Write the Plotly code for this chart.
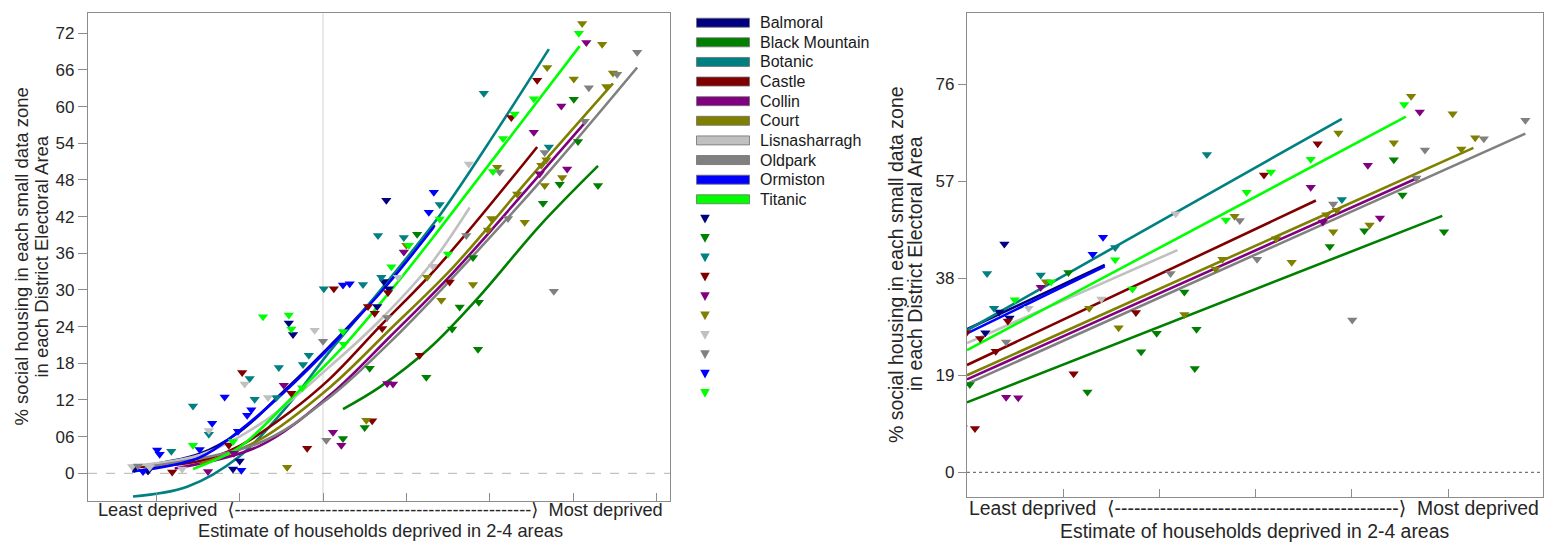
import plotly.graph_objects as go

W, H = 1544, 542

districts = ["Balmoral", "Black Mountain", "Botanic", "Castle", "Collin", "Court",
             "Lisnasharragh", "Oldpark", "Ormiston", "Titanic"]
colors = ["#000080", "#008000", "#008080", "#800000", "#800080", "#808000",
          "#c0c0c0", "#808080", "#0000ff", "#00ff00"]

# ---------------- observed data zones (x = deprivation estimate, y = % social housing)
balmoral_x = [-22.6, -21.0, -10.8, -10.0, -4.1, -3.6, 6.5, 7.3, 7.9, 7.6]
balmoral_y = [0.8, 0.4, 0.7, 2.0, 24.6, 22.7, 27.3, 31.4, 30.2, 44.7]
blackmountain_x = [2.4, 5.0, 5.6, 11.3, 12.4, 15.5, 16.4, 18.0, 18.6, 18.7, 26.4, 28.4, 30.1, 30.6, 33.0]
blackmountain_y = [5.7, 7.5, 17.2, 39.1, 15.7, 23.6, 27.2, 35.3, 20.3, 28.0, 44.2, 47.3, 61.2, 54.3, 47.1]
botanic_x = [-18.2, -15.6, -13.7, -8.8, -8.2, -5.6, -5.3, -2.4, -1.7, 0.1, 4.8, 6.6, 7.0, 9.7, 14.0, 19.3, 27.1]
botanic_y = [3.6, 11.0, 6.4, 15.5, 12.1, 12.4, 17.3, 17.8, 19.3, 30.2, 30.9, 38.9, 32.1, 38.6, 44.0, 62.2, 53.4]
castle_x = [-18.1, -11.3, -9.7, -3.8, -1.9, 1.3, 5.4, 5.9, 6.2, 7.1, 7.8, 11.6, 15.2, 22.6, 25.7]
castle_y = [0.2, 4.6, 16.5, 13.1, 4.1, 30.2, 27.3, 8.6, 26.2, 23.7, 29.6, 19.3, 31.3, 58.2, 64.3]
collin_x = [-13.8, -10.7, -4.7, 1.2, 2.2, 7.7, 8.4, 9.7, 25.3, 26.0, 28.6, 29.3, 31.6]
collin_y = [0.3, 3.3, 14.4, 6.7, 4.6, 14.7, 14.6, 36.2, 55.8, 49.0, 60.1, 49.8, 70.5]
court_x = [-4.3, 5.2, 10.0, 12.5, 14.2, 18.0, 19.8, 20.2, 20.9, 23.3, 24.2, 26.2, 26.8, 26.6,
           26.9, 28.7, 30.1, 31.1, 33.5, 34.0, 34.8]
court_y = [1.0, 8.7, 37.3, 32.1, 28.3, 30.9, 39.8, 41.7, 50.1, 45.7, 41.1, 50.4, 51.3, 47.1,
           66.4, 48.4, 64.5, 73.6, 70.2, 63.3, 65.5]
lisnasharragh_x = [-22.9, -20.8, -16.9, -13.7, -9.4, -6.6, -1.0, 9.0, 13.2, 17.5]
lisnasharragh_y = [1.1, 1.0, 0.7, 7.0, 14.6, 12.4, 23.4, 32.1, 33.9, 50.6]
oldpark_x = [-22.2, 0.0, 0.4, 7.7, 17.2, 21.2, 22.2, 26.6, 27.7, 31.4, 31.9, 35.3, 37.7]
oldpark_y = [1.2, 21.6, 5.4, 25.5, 38.9, 49.3, 41.7, 52.5, 29.8, 57.6, 63.1, 65.3, 68.9]
ormiston_x = [-21.6, -19.9, -19.6, -14.8, -13.3, -11.8, -10.2, -9.8, -9.1, -8.6, 2.4, 3.2, 12.7, 13.3]
ormiston_y = [0.3, 3.8, 3.1, 3.9, 8.2, 12.5, 6.9, 0.5, 9.5, 10.4, 30.8, 31.0, 42.7, 46.0]
titanic_x = [-15.6, -10.8, -7.2, -4.1, -3.8, -2.5, 2.4, 2.5, 8.2, 10.3, 14.0, 15.0, 20.4, 21.6, 23.0, 25.3, 30.7]
titanic_y = [4.6, 5.2, 25.6, 25.9, 23.6, 14.0, 23.2, 21.1, 33.8, 37.3, 41.6, 35.9, 49.4, 54.8, 58.8, 61.3, 72.0]

# ---------------- fitted curves, left panel
curve_balmoral_x = [-22.9, -14.8, -10.0, -4.8, 2.0, 8.0, 13.4]
curve_balmoral_y = [1.0, 3.2, 6.8, 13.3, 22.5, 31.5, 40.6]
curve_blackmountain_x = [2.4, 6.8, 12.8, 18.8, 26.0, 33.0]
curve_blackmountain_y = [10.5, 14.1, 20.5, 29.0, 40.5, 50.3]
curve_botanic_x = [-22.8, -16.3, -10.0, -4.6, 0.84, 6.8, 14.0, 20.9, 27.1]
curve_botanic_y = [-3.8, -2.2, 2.8, 10.5, 20.0, 29.8, 42.2, 56.2, 69.4]
curve_castle_x = [-22.6, -14.8, -10.0, -4.0, 0.84, 6.8, 13.7, 25.7]
curve_castle_y = [1.0, 2.0, 4.5, 10.0, 15.5, 24.0, 33.7, 53.4]
curve_collin_x = [-17.8, -7.6, 0.84, 8.0, 15.6, 24.8, 31.7]
curve_collin_y = [0.8, 4.5, 12.8, 22.3, 32.8, 47.0, 57.8]
curve_court_x = [-14.8, -7.6, 0.84, 8.0, 15.6, 24.8, 34.8]
curve_court_y = [1.5, 5.5, 14.1, 23.5, 33.7, 48.3, 63.8]
curve_lisnasharragh_x = [-23.2, -14.8, -7.6, 0.84, 6.8, 12.8, 17.6]
curve_lisnasharragh_y = [1.2, 3.0, 8.0, 17.5, 25.0, 34.0, 43.5]
curve_oldpark_x = [-21.4, -7.6, 0.84, 9.2, 17.6, 27.2, 37.7]
curve_oldpark_y = [1.0, 5.0, 12.5, 23.0, 35.0, 49.5, 66.4]
curve_ormiston_x = [-22.9, -14.8, -10.0, -4.8, 2.0, 8.0, 13.3]
curve_ormiston_y = [0.3, 2.6, 7.0, 13.1, 22.3, 31.3, 40.3]
curve_titanic_x = [-15.6, -10.0, -4.0, 2.0, 8.2, 14.0, 21.6, 30.8]
curve_titanic_y = [0.7, 4.3, 12.0, 20.1, 30.0, 40.0, 53.5, 69.9]

# ---------------- linear fits, right panel (start / end)
line_x_start = [5.44, 5.44, 5.44, 5.44, 5.44, 5.44, 5.44, 5.44, 5.44, 5.44]
line_y_start = [28.0, 13.7, 27.8, 21.0, 18.2, 19.0, 25.3, 17.3, 27.2, 23.9]
line_x_end = [13.4, 32.9, 27.1, 25.6, 31.6, 34.7, 17.6, 37.7, 13.4, 30.8]
line_y_end = [40.6, 50.2, 69.2, 53.2, 57.8, 63.5, 43.5, 66.3, 40.3, 69.6]

left_yticks = [0, 6, 12, 18, 24, 30, 36, 42, 48, 54, 60, 66, 72]
left_yticktext = ["0", "06", "12", "18", "24", "30", "36", "42", "48", "54", "60", "66", "72"]
right_yticks = [0, 19, 38, 57, 76]
left_xticks = [-20, -10, 0, 10, 20, 30, 40]
right_xticks = [11.0, 16.56, 22.12, 27.68, 33.24]

points = {
    "Balmoral": (balmoral_x, balmoral_y),
    "Black Mountain": (blackmountain_x, blackmountain_y),
    "Botanic": (botanic_x, botanic_y),
    "Castle": (castle_x, castle_y),
    "Collin": (collin_x, collin_y),
    "Court": (court_x, court_y),
    "Lisnasharragh": (lisnasharragh_x, lisnasharragh_y),
    "Oldpark": (oldpark_x, oldpark_y),
    "Ormiston": (ormiston_x, ormiston_y),
    "Titanic": (titanic_x, titanic_y),
}
curves = {
    "Balmoral": (curve_balmoral_x, curve_balmoral_y),
    "Black Mountain": (curve_blackmountain_x, curve_blackmountain_y),
    "Botanic": (curve_botanic_x, curve_botanic_y),
    "Castle": (curve_castle_x, curve_castle_y),
    "Collin": (curve_collin_x, curve_collin_y),
    "Court": (curve_court_x, curve_court_y),
    "Lisnasharragh": (curve_lisnasharragh_x, curve_lisnasharragh_y),
    "Oldpark": (curve_oldpark_x, curve_oldpark_y),
    "Ormiston": (curve_ormiston_x, curve_ormiston_y),
    "Titanic": (curve_titanic_x, curve_titanic_y),
}

fig = go.Figure()

MS = 9
for i, d in enumerate(districts):
    cx, cy = curves[d]
    fig.add_trace(go.Scatter(x=cx, y=cy, mode="lines", line=dict(color=colors[i], width=2.6, shape="spline"),
                             xaxis="x", yaxis="y", showlegend=False, hoverinfo="skip"))
    fig.add_trace(go.Scatter(x=[line_x_start[i], line_x_end[i]], y=[line_y_start[i], line_y_end[i]],
                             mode="lines", line=dict(color=colors[i], width=2.6),
                             xaxis="x2", yaxis="y2", showlegend=False, hoverinfo="skip"))
for i, d in enumerate(districts):
    px_, py_ = points[d]
    for ax, ay in (("x", "y"), ("x2", "y2")):
        fig.add_trace(go.Scatter(x=px_, y=py_, mode="markers", name=d,
                                 marker=dict(symbol="triangle-down", size=MS, color=colors[i], line=dict(width=0)),
                                 xaxis=ax, yaxis=ay, showlegend=False))


def P(x, y):
    return x / W, 1 - y / H


FRAME = "#8c8c8c"
TICKF = dict(family="Liberation Sans, Arial", size=17, color="#262626")
axis_common = dict(showgrid=False, zeroline=False, showline=True, mirror=True, linecolor=FRAME,
                   linewidth=1.2, tickcolor=FRAME)

fig.update_layout(
    width=W, height=H, margin=dict(l=0, r=0, t=0, b=0),
    paper_bgcolor="white", plot_bgcolor="white", showlegend=False,
    xaxis=dict(domain=[88 / W, 670 / W], range=[-28.2, 41.64], tickvals=left_xticks, ticks="inside",
               ticklen=8, showticklabels=False, anchor="y", **axis_common),
    yaxis=dict(domain=[1 - 500.7 / H, 1 - 13.3 / H], range=[-4.48, 75.27], tickvals=left_yticks,
               ticktext=left_yticktext, ticks="outside", ticklen=9, tickfont=TICKF, anchor="x", **axis_common),
    xaxis2=dict(domain=[967 / W, 1543 / W], range=[5.44, 38.72], tickvals=right_xticks, ticks="inside",
                ticklen=8, showticklabels=False, anchor="y2", **axis_common),
    yaxis2=dict(domain=[1 - 497.3 / H, 1 - 12.7 / H], range=[-4.89, 89.96], tickvals=right_yticks,
                ticks="outside", ticklen=8, tickfont=TICKF, anchor="x2", **axis_common),
)

shapes = [
    dict(type="line", xref="x", yref="y domain", x0=0, x1=0, y0=0, y1=1, line=dict(color="#d4d4d4", width=1), layer="below"),
    dict(type="line", xref="x domain", yref="y", x0=0, x1=1, y0=0, y1=0, line=dict(color="#b4b4b4", width=1, dash="dash"), layer="below"),
    dict(type="line", xref="x2 domain", yref="y2", x0=0, x1=1, y0=0, y1=0, line=dict(color="#555555", width=1, dash="dot"), layer="below"),
]

annotations = []
TITLEF = "Liberation Sans, Arial"
# y-axis titles
for xc, txt, size in ((20.5, "% social housing in each small data zone", 18.5),
                      (40.5, "in each District Electoral Area", 18.5),
                      (896, "% social housing in each small data zone", 19.5),
                      (915, "in each District Electoral Area", 19.5)):
    yc = 257 if xc < 100 else 264
    x_, y_ = P(xc, yc)
    annotations.append(dict(text=txt, xref="paper", yref="paper", x=x_, y=y_, xanchor="center", yanchor="middle",
                            textangle=-90, showarrow=False, font=dict(family=TITLEF, size=size, color="#262626")))

XF = "Liberation Sans, DejaVu Sans, Arial"
left_arrow = "Least deprived  ⟨" + "-" * 49 + "⟩  Most deprived"
right_arrow = "Least deprived  ⟨" + "-" * 44 + "⟩  Most deprived"
for xc, yc, txt, size in ((380, 510.3, left_arrow, 18.2), (1254, 508.4, right_arrow, 19.4),
                          (380, 531.2, "Estimate of households deprived in 2-4 areas", 18.2),
                          (1254, 530.6, "Estimate of households deprived in 2-4 areas", 19.4)):
    x_, y_ = P(xc, yc)
    annotations.append(dict(text=txt, xref="paper", yref="paper", x=x_, y=y_, xanchor="center", yanchor="middle",
                            showarrow=False, borderpad=0, font=dict(family=XF, size=size, color="#262626")))

# manual legend
for i, d in enumerate(districts):
    yc = 22.7 + 19.62 * i
    x0, y0 = P(696.5, yc - 4.5)
    x1, y1 = P(749.5, yc + 4.5)
    shapes.append(dict(type="rect", xref="paper", yref="paper", x0=x0, x1=x1, y0=y1, y1=y0,
                       fillcolor=colors[i], line=dict(color="#6e6e6e", width=0.8)))
    tx, ty = P(757.5, yc)
    annotations.append(dict(text=d, xref="paper", yref="paper", x=tx, y=ty, xanchor="left", yanchor="middle",
                            showarrow=False, font=dict(family=TITLEF, size=16, color="#1a1a1a")))
    tc = 219 + 19.37 * i
    ax_, ay_ = P(700.2, tc - 4.3)
    bx_, by_ = P(709.8, tc - 4.3)
    cx_, cy_ = P(705, tc + 4.5)
    shapes.append(dict(type="path", xref="paper", yref="paper",
                       path=f"M{ax_},{ay_} L{bx_},{by_} L{cx_},{cy_} Z",
                       fillcolor=colors[i], line=dict(width=0)))

fig.update_layout(shapes=shapes, annotations=annotations)
fig.write_html("out.html")
